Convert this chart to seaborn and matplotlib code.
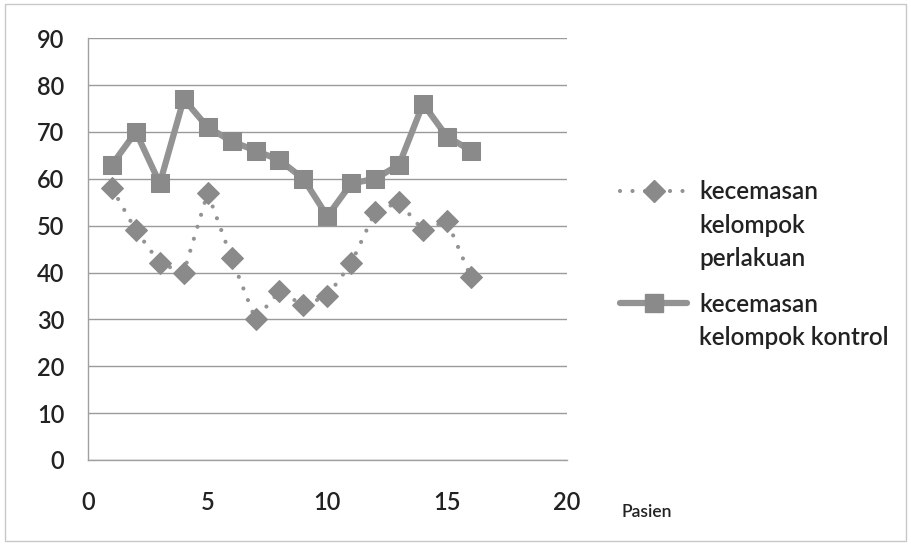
import matplotlib
matplotlib.use("Agg")
import matplotlib.pyplot as plt
import seaborn as sns
import pandas as pd
from matplotlib.lines import Line2D
from matplotlib.patches import Rectangle

pasien = list(range(1, 17))
perlakuan = [58, 49, 42, 40, 57, 43, 30, 36, 33, 35, 42, 53, 55, 49, 51, 39]
kontrol = [63, 70, 59, 77, 71, 68, 66, 64, 60, 52, 59, 60, 63, 76, 69, 66]
label_perlakuan = ["kecemasan", "kelompok", "perlakuan"]
label_kontrol = ["kecemasan", "kelompok kontrol"]
x_ticks = [0, 5, 10, 15, 20]
y_ticks = [0, 10, 20, 30, 40, 50, 60, 70, 80, 90]

sns.set_theme(style="white")
plt.rcParams["font.family"] = ["Lato", "DejaVu Sans"]
plt.rcParams["font.weight"] = "semibold"

df = pd.DataFrame({"Pasien": pasien, "perlakuan": perlakuan, "kontrol": kontrol})

fig = plt.figure(figsize=(9.11, 5.45), dpi=100)
ax = fig.add_axes([0.0966, 0.156, 0.5254, 0.774])

grey_line = "#939393"
grey_mark = "#8a8a8a"
text_col = "#222222"
dot_style = (0, (0.001, 3.0))

line_kw_p = dict(color=grey_line, linestyle=dot_style, linewidth=3.0,
                 dash_capstyle="round", marker="D", markersize=11,
                 markerfacecolor=grey_mark, markeredgecolor=grey_mark)
line_kw_k = dict(color=grey_line, linewidth=4.5, marker="s", markersize=13.5,
                 markerfacecolor=grey_mark, markeredgecolor=grey_mark)

sns.lineplot(data=df, x="Pasien", y="perlakuan", ax=ax, legend=False, **line_kw_p)
sns.lineplot(data=df, x="Pasien", y="kontrol", ax=ax, legend=False, **line_kw_k)

ax.set_xlim(0, 20)
ax.set_ylim(0, 90)
ax.set_xticks(x_ticks)
ax.set_yticks(y_ticks)
ax.set_xlabel("")
ax.set_ylabel("")
ax.yaxis.grid(True, color="#9a9a9a", linewidth=1.0)
ax.xaxis.grid(False)
for s in ["top", "right"]:
    ax.spines[s].set_visible(False)
for s in ["left", "bottom"]:
    ax.spines[s].set_color("#a0a0a0")
    ax.spines[s].set_linewidth(1.0)
ax.tick_params(axis="x", direction="out", length=5, width=1, color="#a0a0a0",
               labelsize=17, pad=17, labelcolor=text_col)
ax.tick_params(axis="y", direction="out", length=5, width=1, color="#a0a0a0",
               labelsize=17, pad=12, labelcolor=text_col)
ax.set_axisbelow(True)

ax.text(1.115, -0.123, "Pasien", transform=ax.transAxes, fontsize=12.5,
        color=text_col, va="center", ha="left")

# Legend: handle sits beside the first line of each wrapped label
blank = Line2D([], [], linestyle="none")
leg_kw = dict(frameon=False, fontsize=17.5, handlelength=2.75, labelspacing=0.43,
              handletextpad=0.5, borderpad=0, borderaxespad=0,
              loc="upper left", labelcolor=text_col)
h_p = Line2D([], [], **line_kw_p)
h_k = Line2D([], [], **line_kw_k)
leg1 = ax.legend([h_p, blank, blank], label_perlakuan,
                 bbox_to_anchor=(1.112, 0.6635), **leg_kw)
ax.add_artist(leg1)
leg2 = ax.legend([h_k, blank], label_kontrol,
                 bbox_to_anchor=(1.112, 0.397), **leg_kw)

fig.patches.append(Rectangle((0.005, 0.008), 0.99, 0.985, transform=fig.transFigure,
                             fill=False, edgecolor="#c8c8c8", linewidth=1.0))

fig.savefig("out.png", dpi=100, facecolor="white")
